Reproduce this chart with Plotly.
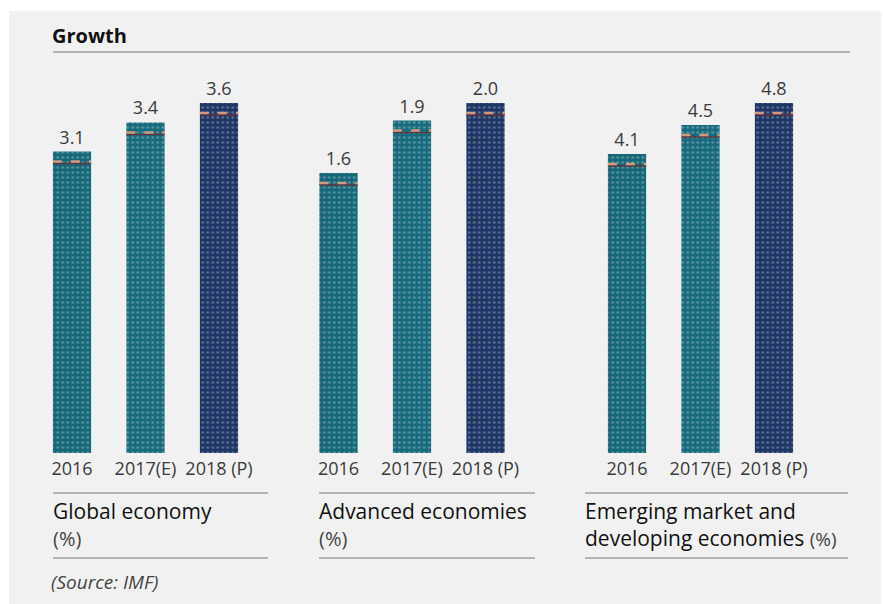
import plotly.graph_objects as go

W, H = 883, 604

years = ["2016", "2017(E)", "2018 (P)"]
global_vals = [3.1, 3.4, 3.6]
advanced_vals = [1.6, 1.9, 2.0]
emerging_vals = [4.1, 4.5, 4.8]
value_labels_global = ["3.1", "3.4", "3.6"]
value_labels_advanced = ["1.6", "1.9", "2.0"]
value_labels_emerging = ["4.1", "4.5", "4.8"]

bar_colors = ["#166879", "#176b7d", "#1e3666"]
speck_colors = ["#3d97a8", "#3d99aa", "#2e4f88"]

groups = [
    (global_vals, value_labels_global),
    (advanced_vals, value_labels_advanced),
    (emerging_vals, value_labels_emerging),
]

# pixel layout
bar_bottom_px = 453
plot_top_px = 80
tallest_px = 350
cat_step = 73.5
first_centers = [72, 338.5, 627]

fig = go.Figure()

FONT = "Open Sans"

for i, (vals, labels) in enumerate(groups):
    ax = "" if i == 0 else str(i + 1)
    x0 = (first_centers[i] - cat_step / 2) / W
    x1 = (first_centers[i] + cat_step * 2.5) / W
    ymax = max(vals) * (bar_bottom_px - plot_top_px) / tallest_px
    fig.add_trace(go.Bar(
        x=years, y=vals, text=labels, textposition="outside",
        textfont=dict(size=18, color="#3a3a3a", family=FONT),
        marker=dict(color=bar_colors, line=dict(width=0),
                    pattern=dict(shape=".", fgcolor=speck_colors, size=5, solidity=0.2, fgopacity=0.3)),
        width=0.52, cliponaxis=False, showlegend=False, hoverinfo="skip",
        xaxis="x" + ax, yaxis="y" + ax,
    ))
    fig.update_layout(**{
        "xaxis" + ax: dict(domain=[x0, x1], type="category", showgrid=False, zeroline=False,
                           showline=False, ticks="", tickfont=dict(size=18, color="#3a3a3a", family=FONT),
                           ticklen=0, ticklabelstandoff=3, anchor="y" + ax, fixedrange=True),
        "yaxis" + ax: dict(domain=[(H - bar_bottom_px) / H, (H - plot_top_px) / H], range=[0, ymax],
                           visible=False, anchor="x" + ax, fixedrange=True),
    })
    # stitching line near the top of each bar
    for j, v in enumerate(vals):
        fig.add_shape(type="line", xref="x" + ax, yref="y" + ax,
                      x0=j - 0.26, x1=j + 0.26, ysizemode="pixel", yanchor=v, y0=-12, y1=-12,
                      line=dict(color="#5e3440", width=1.5))
        fig.add_shape(type="line", xref="x" + ax, yref="y" + ax,
                      x0=j - 0.26, x1=j + 0.26, ysizemode="pixel", yanchor=v, y0=-10, y1=-10,
                      line=dict(color="#d49a80", width=2.5, dash="dash"))

# grey panel
fig.add_shape(type="rect", xref="paper", yref="paper", x0=9 / W, x1=881 / W, y0=0, y1=(H - 11) / H,
              fillcolor="#f1f1f1", line=dict(width=0), layer="below")

# title and rule
fig.add_annotation(text="<b>Growth</b>", xref="paper", yref="paper", x=50 / W, y=(H - 35) / H,
                   xanchor="left", yanchor="middle", showarrow=False,
                   font=dict(size=20, color="#111111", family=FONT))
fig.add_shape(type="line", xref="paper", yref="paper", x0=53 / W, x1=850 / W,
              y0=(H - 52) / H, y1=(H - 52) / H, line=dict(color="#b4b4b4", width=2))

# group rules and titles
rule_x = [(53, 268), (319, 535), (585, 848)]
for i, (a, b) in enumerate(rule_x):
    for yy in (493, 558):
        fig.add_shape(type="line", xref="paper", yref="paper", x0=a / W, x1=b / W,
                      y0=(H - yy) / H, y1=(H - yy) / H, line=dict(color="#b4b4b4", width=2))

title_fmt = [
    "<span style='color:#111'>Global economy</span><br><span style='font-size:20px;color:#444'>(%)</span>",
    "<span style='color:#111'>Advanced economies</span><br><span style='font-size:20px;color:#444'>(%)</span>",
    "<span style='color:#111'>Emerging market and</span><br><span style='color:#111'>developing economies </span><span style='font-size:19px;color:#444'>(%)</span>",
]
for i, (a, b) in enumerate(rule_x):
    fig.add_annotation(text=title_fmt[i], xref="paper", yref="paper", x=(a - 2) / W, y=(H - 495) / H,
                       xanchor="left", yanchor="top", align="left", showarrow=False,
                       font=dict(family=FONT, size=21, color="#111"))

fig.add_annotation(text="<i>(Source: IMF)</i>", xref="paper", yref="paper", x=49 / W, y=(H - 582) / H,
                   xanchor="left", yanchor="middle", showarrow=False,
                   font=dict(size=19, color="#444444", family=FONT))

fig.update_layout(width=W, height=H, margin=dict(l=0, r=0, t=0, b=0),
                  paper_bgcolor="white", plot_bgcolor="rgba(0,0,0,0)")

fig.write_html("out.html", config={"displayModeBar": False},
               post_script="document.body.style.margin='0';document.body.style.overflow='hidden';")
